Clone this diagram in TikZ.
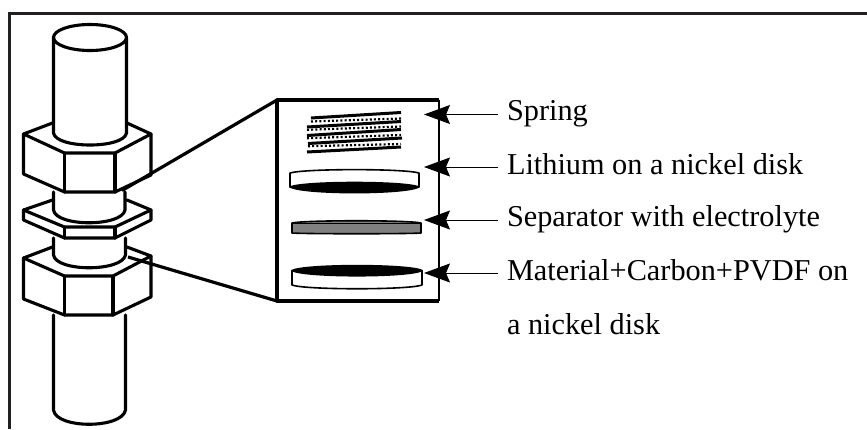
\documentclass[tikz,border=0pt]{standalone}
\usepackage{fontspec}
\setmainfont{Liberation Serif}
\usetikzlibrary{arrows.meta}
\definecolor{framecol}{HTML}{231F20}
\tikzset{
  ink/.style={line width=3.1pt,black,line join=round,line cap=round},
  frameline/.style={line width=3pt,framecol},
  zoomline/.style={line width=3.2pt,black},
  diskline/.style={line width=1.6pt,black,line join=round},
  barline/.style={line width=3pt,black},
  coilline/.style={line width=2.2pt,black,dash pattern=on 2pt off 2.2pt},
  lbl/.style={anchor=base west,inner sep=0pt,outer sep=0pt,font=\fontsize{30.3}{36}\selectfont,text=black},
  ptr/.style={line width=1pt,black,-{Stealth[length=26pt,width=19pt,inset=4pt]}},
}
\newcommand{\hexnut}[8]{%
  \draw[ink] (52.5,#2) -- (23.5,#1) -- (64.5,#3) -- (#8,#3) -- (151,#6) -- (127,#2);
  \draw[ink] (23.5,#1) -- (23.5,#4) -- (64.5,#5) -- (#8,#5) -- (151,#7) -- (151,#6);
  \draw[ink] (64.5,#3) -- (64.5,#5) (#8,#3) -- (#8,#5);
}
\begin{document}
\begin{tikzpicture}[x=1pt,y=-1pt]
\useasboundingbox (0,0) rectangle (867,429);
\fill[white] (0,0) rectangle (867,429);
% outer frame
\coordinate (fa) at (9,429);
\coordinate (fb) at (9,13.5);
\coordinate (fc) at (867,13.5);
\draw[frameline,line join=miter] (fa) -- (fb) -- (fc);
% top cylinder
\draw[ink] (90,37.5) ellipse [x radius=36.5,y radius=13];
\draw[ink] (53.5,37.5) -- (53.5,133) .. controls (56,149) and (124,149) .. (126.5,133) -- (126.5,37.5);
\hexnut{134}{123}{153}{174}{192}{134}{175}{115}
% shaft 1
\draw[ink] (53.5,192) -- (53.5,210) .. controls (56,227) and (122,227) .. (125,210) -- (125,192);
% washer
\hexnut{210}{200}{227}{220}{238}{210}{220}{115}
% shaft 2
\draw[ink] (53.5,238) -- (53.5,255) .. controls (56,272) and (122,272) .. (125.5,255) -- (125.5,238);
\hexnut{258}{247}{276}{299}{315}{256}{297}{113}
% bottom cylinder
\draw[ink] (53.5,315) -- (53.5,410) .. controls (56,429) and (122,429) .. (125.5,410) -- (125.5,315);
% zoom lines
\coordinate (zu) at (122,190.5);
\coordinate (zl) at (128,257);
\node[inner sep=0pt,outer sep=0pt,minimum width=162pt,minimum height=201pt,anchor=north west] (box) at (277,100) {};
\draw[zoomline] (zu) -- (box.north west);
\draw[zoomline] (zl) -- (box.south west);
\draw[line width=3.2pt,black,line join=round,fill=white] (box.north east) -- (box.north west) -- (box.south west) -- (box.south east);
\draw[line width=2.2pt,black] (box.north east) -- (box.south east);
% spring
\draw[barline] (311,118) -- (401,112.5);
\draw[barline] (307,127) -- (401,121.5);
\draw[barline] (307,135.5) -- (401,129.5);
\draw[barline] (308,143.5) -- (402,138);
\draw[barline] (307,152) -- (401,147);
\draw[coilline] (311,121.5) -- (401,118.5);
\draw[coilline] (307,129.8) -- (401,126.5);
\draw[coilline] (307,138.2) -- (401,135);
\draw[coilline] (308,146.2) -- (401,144);
% lithium disk
\draw[diskline,fill=white] (290,187) -- (290,173) .. controls (305,168.5) and (404,168.5) .. (419,173) -- (419,187);
\draw[diskline,fill=black] (290,187) .. controls (305,181) and (404,181) .. (419,187) .. controls (404,194.5) and (305,194.5) .. (290,187) -- cycle;
% separator
\draw[diskline,fill=black!50] (292,223) .. controls (305,220) and (408,220) .. (421,223) -- (421,233) .. controls (408,234) and (305,234) .. (292,233) -- cycle;
\draw[line width=1pt,black] (292,223.5) -- (421,223.5);
% material disk
\draw[diskline,fill=white] (292,270) -- (292,285) .. controls (305,290) and (409,290) .. (422,285) -- (422,270);
\draw[diskline,fill=black] (292,270.5) .. controls (305,264) and (409,264) .. (422,270.5) .. controls (409,277.5) and (305,277.5) .. (292,270.5) -- cycle;
% labels
\node[lbl] (spring) at (507,120.7) {Spring};
\node[lbl] (lithium) at (507,174) {Lithium on a nickel disk};
\node[lbl] (separator) at (507,226.7) {Separator with electrolyte};
\node[lbl] (material) at (507,280) {Material+Carbon+PVDF on};
\node[lbl] (nickel) at (507,334) {a nickel disk};
% pointers
\coordinate (s1) at (498,114.5); \coordinate (t1) at (424,114.5);
\coordinate (s2) at (498,167);   \coordinate (t2) at (424,167);
\coordinate (s3) at (498,220);   \coordinate (t3) at (424,220);
\coordinate (s4) at (498,273);   \coordinate (t4) at (424,273);
\draw[ptr] (s1) -- (t1);
\draw[ptr] (s2) -- (t2);
\draw[ptr] (s3) -- (t3);
\draw[ptr] (s4) -- (t4);
\end{tikzpicture}
\end{document}
